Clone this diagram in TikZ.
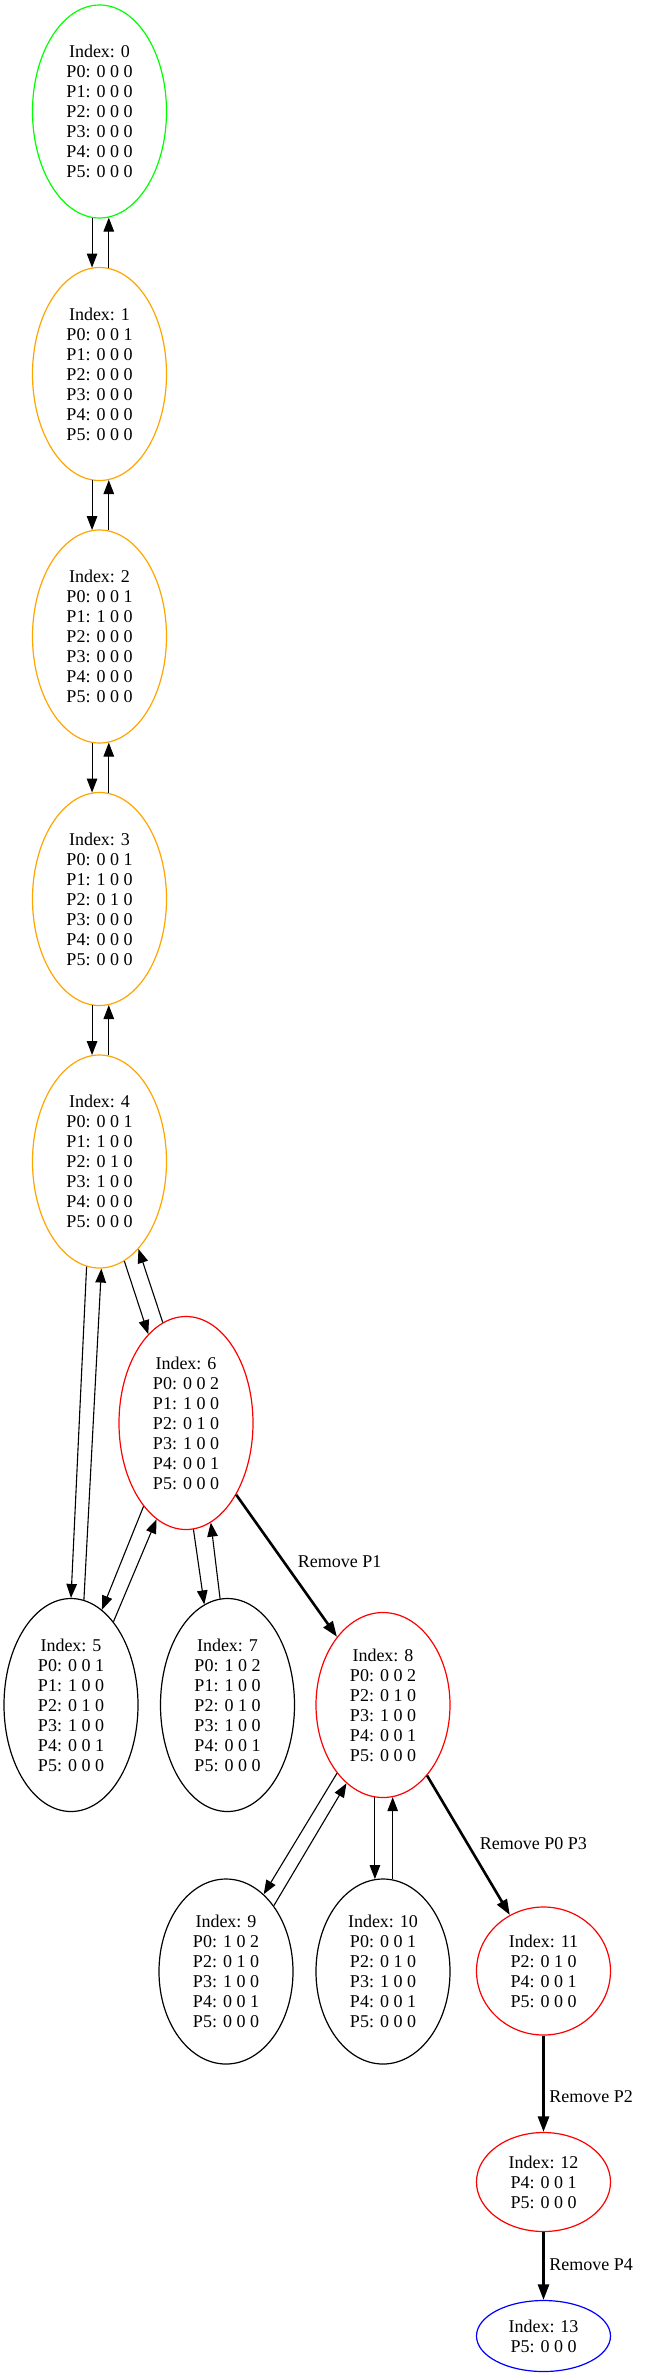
\documentclass[tikz,border=0pt]{standalone}
\usepackage{fontspec}
\setmainfont{Liberation Serif}
\usetikzlibrary{shapes.geometric}
\usetikzlibrary{positioning}
\usetikzlibrary{arrows.meta}
\definecolor{gvgreen}{RGB}{0,255,0}
\definecolor{gvorange}{RGB}{255,165,0}
\tikzset{node distance=262.5pt, % Distance between two states of the chain
idx/.style={ % Sets the properties for each state
ellipse,
draw,
line width=1.2pt,
inner sep=0pt,
minimum width=134pt,
align=center,
font=\fontsize{18}{20}\selectfont},
seven/.style={minimum height=213pt}, % 7 lines of text
six/.style={minimum height=185pt},
four/.style={minimum height=128pt},
three/.style={minimum height=99pt},
two/.style={minimum height=71pt},
lbl/.style={ % Label next to a removal
anchor=west,
inner sep=0pt,
font=\fontsize{18}{20}\selectfont},
every edge/.style={ % Sets the properties for each transition
draw,
-{Triangle[length=14pt,width=10.5pt]}, % Filled arrow heads
line width=1.1pt},
removal/.style={ % Bold edges
line width=2.6pt,
-{Triangle[length=15.5pt,width=11pt]}}}

\begin{document}
\begin{tikzpicture}[x=1pt,y=-1pt,on grid]
  \useasboundingbox (0,0) rectangle (645,2377);
  \node[idx,seven,draw=gvgreen]  (s_0) at (99.5,111.5) {Index: 0\\P0: 0 0 0\\P1: 0 0 0\\P2: 0 0 0\\P3: 0 0 0\\P4: 0 0 0\\P5: 0 0 0};
  \node[idx,seven,draw=gvorange] (s_1) [below=of s_0] {Index: 1\\P0: 0 0 1\\P1: 0 0 0\\P2: 0 0 0\\P3: 0 0 0\\P4: 0 0 0\\P5: 0 0 0};
  \node[idx,seven,draw=gvorange] (s_2) [below=of s_1] {Index: 2\\P0: 0 0 1\\P1: 1 0 0\\P2: 0 0 0\\P3: 0 0 0\\P4: 0 0 0\\P5: 0 0 0};
  \node[idx,seven,draw=gvorange] (s_3) [below=of s_2] {Index: 3\\P0: 0 0 1\\P1: 1 0 0\\P2: 0 1 0\\P3: 0 0 0\\P4: 0 0 0\\P5: 0 0 0};
  \node[idx,seven,draw=gvorange] (s_4) [below=of s_3] {Index: 4\\P0: 0 0 1\\P1: 1 0 0\\P2: 0 1 0\\P3: 1 0 0\\P4: 0 0 0\\P5: 0 0 0};
  \node[idx,seven,draw=red]      (s_6) at (186,1423)   {Index: 6\\P0: 0 0 2\\P1: 1 0 0\\P2: 0 1 0\\P3: 1 0 0\\P4: 0 0 1\\P5: 0 0 0};
  \node[idx,seven]               (s_5) at (71,1705)    {Index: 5\\P0: 0 0 1\\P1: 1 0 0\\P2: 0 1 0\\P3: 1 0 0\\P4: 0 0 1\\P5: 0 0 0};
  \node[idx,seven]               (s_7) at (227.5,1705) {Index: 7\\P0: 1 0 2\\P1: 1 0 0\\P2: 0 1 0\\P3: 1 0 0\\P4: 0 0 1\\P5: 0 0 0};
  \node[idx,six,draw=red]        (s_8) at (383,1705)   {Index: 8\\P0: 0 0 2\\P2: 0 1 0\\P3: 1 0 0\\P4: 0 0 1\\P5: 0 0 0};
  \node[idx,six]                 (s_9) at (226,1971.5) {Index: 9\\P0: 1 0 2\\P2: 0 1 0\\P3: 1 0 0\\P4: 0 0 1\\P5: 0 0 0};
  \node[idx,six]                 (s_10) at (383,1971.5) {Index: 10\\P0: 0 0 1\\P2: 0 1 0\\P3: 1 0 0\\P4: 0 0 1\\P5: 0 0 0};
  \node[idx,four,draw=red]       (s_11) at (543.5,1971) {Index: 11\\P2: 0 1 0\\P4: 0 0 1\\P5: 0 0 0};
  \node[idx,three,draw=red]      (s_12) at (543.5,2182) {Index: 12\\P4: 0 0 1\\P5: 0 0 0};
  \node[idx,two,draw=blue]       (s_13) at (543.5,2336) {Index: 13\\P5: 0 0 0};
  \path (s_0.-94.6)  edge (s_1.94.6)
        (s_1.85.4)   edge (s_0.-85.4)
        (s_1.-94.6)  edge (s_2.94.6)
        (s_2.85.4)   edge (s_1.-85.4)
        (s_2.-94.6)  edge (s_3.94.6)
        (s_3.85.4)   edge (s_2.-85.4)
        (s_3.-94.6)  edge (s_4.94.6)
        (s_4.85.4)   edge (s_3.-85.4)
        (s_4.-97.3)  edge (s_5.90.5)
        (s_5.83.1)   edge (s_4.-89.2)
        (s_4.-76.2)  edge (s_6.113.4)
        (s_6.103.5)  edge (s_4.-66.8)
        (s_6.-117.1) edge (s_5.72.5)
        (s_5.63.2)   edge (s_6.-107)
        (s_6.-86.3)  edge (s_7.103.8)
        (s_7.94)     edge (s_6.-76.4)
        (s_6.-55.2)  edge [removal] node [lbl,pos=0.47,xshift=13pt] (l_1) {Remove P1} (s_8.124.7)
        (s_8.-124.1) edge (s_9.64.2)
        (s_9.54.8)   edge (s_8.-115.9)
        (s_8.-95.4)  edge (s_10.95.4)
        (s_10.84.6)  edge (s_8.-84.6)
        (s_8.-58.2)  edge [removal] node [lbl,pos=0.49,xshift=11pt] (l_2) {Remove P0 P3} (s_11.121)
        (s_11.south) edge [removal] node [lbl,pos=0.635,xshift=4.5pt] (l_3) {Remove P2} (s_12.north)
        (s_12.south) edge [removal] node [lbl,pos=0.485,xshift=4.5pt] (l_4) {Remove P4} (s_13.north);
\end{tikzpicture}
\end{document}
